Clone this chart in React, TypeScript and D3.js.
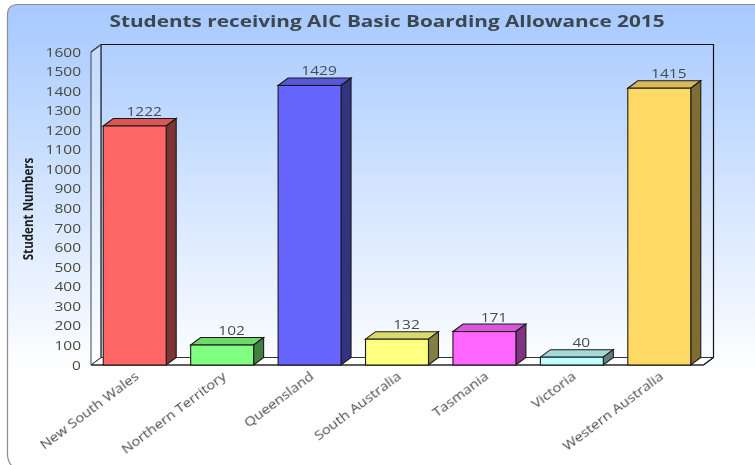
import React from "react";
import * as d3 from "d3";

const categories = ["New South Wales", "Northern Territory", "Queensland", "South Australia", "Tasmania", "Victoria", "Western Australia"];
const students = [1222, 102, 1429, 132, 171, 40, 1415];
const fronts = ["#ff6666", "#80ff80", "#6666ff", "#ffff80", "#ff66ff", "#c0ffff", "#ffd966"];
const tops = ["#d95757", "#6dd96d", "#5757d9", "#d9d96d", "#d957d9", "#a3d9d9", "#d9b857"];
const sides = ["#803333", "#408040", "#333380", "#808040", "#803380", "#608080", "#806d33"];
const yTicks = d3.range(0, 1700, 100);
const title = "Students receiving AIC Basic Boarding Allowance 2015";
const yAxisTitle = "Student Numbers";

const dx = 10;
const dy = -7.5;
const y = d3.scaleLinear().domain([0, 1600]).range([365, 52]);
const x = d3.scaleBand<string>().domain(categories).range([91, 703]).paddingInner(0.28).paddingOuter(0.14);

const pts = (p: [number, number][]) => p.map((q) => q.join(",")).join(" ");
const font = "'Open Sans', sans-serif";

export default function App() {
  const x0 = 91, x1 = 703.5, y0 = y(0), yT = y(1600);
  return (
    <svg width={755} height={465} style={{ position: "absolute", left: 0, top: 0, display: "block" }} fontFamily={font}>
      <defs>
        <linearGradient id="bg" x1="0" y1="0" x2="0" y2="1">
          <stop offset="0" stopColor="#a6c9ff" />
          <stop offset="0.8" stopColor="#ffffff" />
          <stop offset="1" stopColor="#ffffff" />
        </linearGradient>
        <filter id="soft" x="-5%" y="-20%" width="110%" height="140%">
          <feGaussianBlur stdDeviation="0.4" />
        </filter>
      </defs>
      <rect width={755} height={465} fill="#fff" />
      <path d="M770,4.5 H18 Q7.5,4.5 7.5,15 V454 Q7.5,462 13,467 H770 Z" fill="url(#bg)" stroke="#8c8c8c" strokeWidth={1.2} />
      <text x={387} y={26.5} textAnchor="middle" fontSize={15.5} fontWeight={700} fill="#3c4650" textLength={555} lengthAdjust="spacingAndGlyphs" filter="url(#soft)">{title}</text>

      {/* 3D box walls */}
      <polygon points={pts([[x0, y0], [x0 + dx, y0 + dy], [x1 + dx, y0 + dy], [x1, y0]])} fill="#ffffff" stroke="#333" strokeWidth={1} />
      <polyline points={pts([[x0, yT], [x0 + dx, yT + dy], [x1 + dx, yT + dy], [x1 + dx, y0 + dy], [x1, y0]])} fill="none" stroke="#111" strokeWidth={1.2} />
      <line x1={x0 + dx} x2={x0 + dx} y1={yT + dy} y2={y0 + dy} stroke="#222" strokeWidth={1.2} />
      <polygon points={pts([[x0, y0], [x0 + dx, y0 + dy], [x0 + dx, yT + dy], [x0, yT]])} fill="#ffffff" fillOpacity={0.25} stroke="#3a4450" strokeWidth={1} />
      <line x1={x0} x2={x1} y1={y0} y2={y0} stroke="#222" strokeWidth={1.2} />

      {yTicks.map((t) => (
        <text key={t} transform={`translate(81,${y(t) + 4.5}) scale(1.24,1)`} textAnchor="end" fontSize={12.5} fill="#4a4a3c" filter="url(#soft)">{t}</text>
      ))}
      <text transform="translate(33,209) rotate(-90) scale(0.8,1)" textAnchor="middle" fontSize={14.5} fontWeight={700} fill="#1c1c1c" filter="url(#soft)">{yAxisTitle}</text>

      {categories.map((c, i) => {
        const l = x(c)!, w = x.bandwidth(), r = l + w, t = y(students[i]);
        return (
          <g key={c} stroke="#1a1a1a" strokeWidth={1.1}>
            <polygon points={pts([[l, t], [l + dx, t + dy], [r + dx, t + dy], [r, t]])} fill={tops[i]} />
            <polygon points={pts([[r, t], [r + dx, t + dy], [r + dx, y0 + dy], [r, y0]])} fill={sides[i]} />
            <rect x={l} y={t} width={w} height={y0 - t} fill={fronts[i]} />
            <text transform={`translate(${l + w / 2 + 9.5},${t + dy - 2.5}) scale(1.24,1)`} textAnchor="middle" fontSize={12.5} fill="#444c54" stroke="none" filter="url(#soft)">{students[i]}</text>
            <text transform={`translate(${l + w / 2 + 5},${y0 + 13}) rotate(-37) scale(1.18,1)`} textAnchor="end" fontSize={12.5} fill="#4a4a4a" stroke="none" filter="url(#soft)">{c}</text>
          </g>
        );
      })}
    </svg>
  );
}
